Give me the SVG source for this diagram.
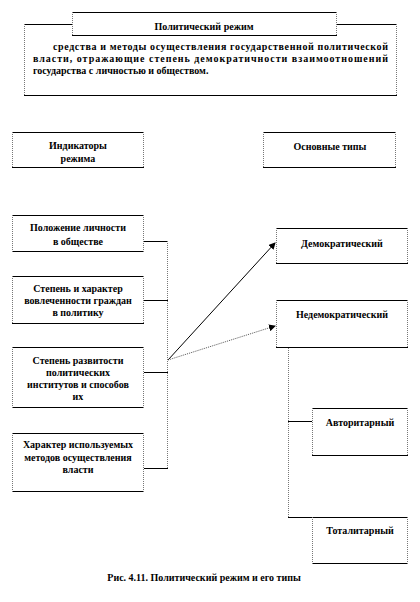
<svg xmlns="http://www.w3.org/2000/svg" width="420" height="602" viewBox="0 0 420 602">
<defs>
<style>
.bg{fill:#fff;stroke:none}
.h{stroke:#000;stroke-width:1;fill:none}
.v{stroke:#777;stroke-width:1;stroke-dasharray:1 1;fill:none}
.t{font-family:"Liberation Serif","Times New Roman",serif;font-weight:bold;font-size:10px;fill:#000}
.c{text-anchor:middle}
.ln{stroke:#000;stroke-width:1;fill:none}
.dl{stroke:#555;stroke-width:1;stroke-dasharray:1 1;fill:none}
</style>
<marker id="ah" markerWidth="7" markerHeight="7" refX="6" refY="3.5" orient="auto" markerUnits="userSpaceOnUse">
<path d="M0,0 L7,3.5 L0,7 Z" fill="#000"/>
</marker>
</defs>
<rect x="0" y="0" width="420" height="602" fill="#fff"/>

<g id="definition">
<rect class="bg" x="24" y="24" width="373" height="72"/>
<path class="h" d="M24,24.5H397M24,95.5H397"/>
<path class="v" d="M24.5,24V96M396.5,24V96"/>
<text class="t" x="53" y="49.5" textLength="335" lengthAdjust="spacing">средства и методы осуществления государственной политической</text>
<text class="t" x="33" y="61.5" textLength="355" lengthAdjust="spacing">власти, отражающие степень демократичности взаимоотношений</text>
<text class="t" x="33" y="73.5">государства с личностью и обществом.</text>
</g>

<g id="title">
<rect class="bg" x="72" y="12" width="265" height="24"/>
<path class="h" d="M72,12.5H337M72,35.5H337"/>
<path class="v" d="M72.5,12V36M336.5,12V36"/>
<text class="t c" x="204" y="29.5">Политический режим</text>
</g>

<g id="indicators">
<rect class="bg" x="12" y="132" width="132" height="36"/>
<path class="h" d="M12,132.5H144M12,167.5H144"/>
<path class="v" d="M12.5,132V168M143.5,132V168"/>
<text class="t c" x="78" y="148.5">Индикаторы</text>
<text class="t c" x="78" y="161.5">режима</text>
</g>

<g id="types">
<rect class="bg" x="263" y="132" width="133" height="36"/>
<path class="h" d="M263,132.5H396M263,167.5H396"/>
<path class="v" d="M263.5,132V168M395.5,132V168"/>
<text class="t c" x="330" y="149.5">Основные типы</text>
</g>

<g id="ind1">
<rect class="bg" x="12" y="215" width="132" height="37"/>
<path class="h" d="M12,215.5H144M12,251.5H144"/>
<path class="v" d="M12.5,215V252M143.5,215V252"/>
<text class="t c" x="78" y="230.5">Положение личности</text>
<text class="t c" x="78" y="244.5">в обществе</text>
</g>

<g id="ind2">
<rect class="bg" x="12" y="276" width="132" height="48"/>
<path class="h" d="M12,276.5H144M12,323.5H144"/>
<path class="v" d="M12.5,276V324M143.5,276V324"/>
<text class="t c" x="78" y="291.5">Степень и характер</text>
<text class="t c" x="78" y="303.5">вовлеченности граждан</text>
<text class="t c" x="78" y="315.5">в политику</text>
</g>

<g id="ind3">
<rect class="bg" x="12" y="347" width="132" height="61"/>
<path class="h" d="M12,347.5H144M12,407.5H144"/>
<path class="v" d="M12.5,347V408M143.5,347V408"/>
<text class="t c" x="78" y="363.5">Степень развитости</text>
<text class="t c" x="78" y="375.5">политических</text>
<text class="t c" x="78" y="387.5">институтов и способов</text>
<text class="t c" x="78" y="399.5">их</text>
</g>

<g id="ind4">
<rect class="bg" x="12" y="433" width="132" height="59"/>
<path class="h" d="M12,433.5H144M12,491.5H144"/>
<path class="v" d="M12.5,433V492M143.5,433V492"/>
<text class="t c" x="78" y="447.5">Характер используемых</text>
<text class="t c" x="78" y="460.5">методов осуществления</text>
<text class="t c" x="78" y="472.5">власти</text>
</g>

<g id="dem">
<rect class="bg" x="276" y="228" width="132" height="36"/>
<path class="h" d="M276,228.5H408M276,263.5H408"/>
<path class="v" d="M276.5,228V264M407.5,228V264"/>
<text class="t c" x="342" y="246.5">Демократический</text>
</g>

<g id="nondem">
<rect class="bg" x="276" y="300" width="132" height="48"/>
<path class="h" d="M276,300.5H408M276,347.5H408"/>
<path class="v" d="M276.5,300V348M407.5,300V348"/>
<text class="t c" x="342" y="317.5">Недемократический</text>
</g>

<g id="auth">
<rect class="bg" x="312" y="408" width="96" height="48"/>
<path class="h" d="M312,408.5H408M312,455.5H408"/>
<path class="v" d="M312.5,408V456M407.5,408V456"/>
<text class="t c" x="360" y="425.5">Авторитарный</text>
</g>

<g id="total">
<rect class="bg" x="312" y="517" width="96" height="47"/>
<path class="h" d="M312,517.5H408M312,563.5H408"/>
<path class="v" d="M312.5,517V564M407.5,517V564"/>
<text class="t c" x="360" y="533.5">Тоталитарный</text>
</g>

<g id="connectors">
<path class="ln" d="M144,241.5H168M144,300.5H168M144,372.5H168M144,468.5H168"/>
<path class="v" d="M167.5,241V469"/>
<path class="ln" d="M168,360L275,243" marker-end="url(#ah)"/>
<path class="dl" d="M168,360L275,326" marker-end="url(#ah)"/>
<path class="v" d="M288.5,348V518"/>
<path class="ln" d="M288,421.5H312M288,517.5H312"/>
</g>

<g id="caption">
<text class="t c" x="204" y="580.5">Рис. 4.11.  Политический режим и его типы</text>
</g>
</svg>
